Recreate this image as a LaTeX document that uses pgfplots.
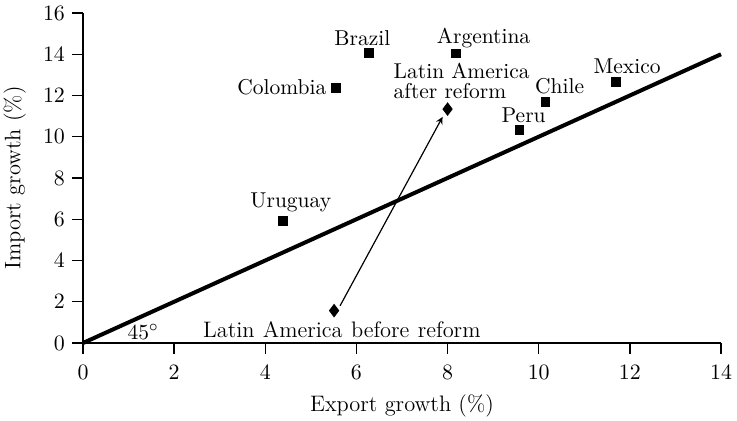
\documentclass[border=0pt]{standalone}
\usepackage{pgfplots}
\pgfplotsset{compat=1.18}
\begin{document}
\begin{tikzpicture}[font=\fontsize{10.75}{12.9}\selectfont]
\begin{axis}[
  at={(0,0)}, anchor=south west,
  scale only axis, width=319pt, height=165pt,
  xmin=0, xmax=14, ymin=0, ymax=16,
  axis lines*=left,
  axis line style={line width=1pt},
  xtick={0,2,...,14}, ytick={0,2,...,16},
  tick align=outside, major tick length=5.5pt,
  tick style={line width=0.7pt, black},
  tick label style={font=\fontsize{10.75}{12.9}\selectfont},
  xticklabel style={yshift=-2pt},
  xlabel={Export growth (\%)}, ylabel={Import growth (\%)},
  label style={font=\fontsize{11.2}{13.4}\selectfont},
  xlabel style={at={(axis description cs:0.5,-0.191)}, anchor=center},
  ylabel style={at={(axis description cs:-0.107,0.5)}, anchor=center, rotate=0},
  clip=false,
]
\addplot[line width=2pt, no marks] coordinates {(0,0) (14,14)};
\addplot[only marks, mark=square*, mark size=2.1pt, black] coordinates {
  (6.27,14.06) (8.18,14.03) (5.55,12.36) (11.69,12.65) (10.15,11.68) (9.58,10.34) (4.39,5.92)
};
\addplot[only marks, mark=diamond*, mark size=3.1pt, black] coordinates {
  (5.51,1.57) (8.0,11.34)
};
\draw[-stealth, line width=0.6pt] (axis cs:5.64,1.8) -- (axis cs:7.89,10.96);
\node at (axis cs:6.13,14.79) {Brazil};
\node at (axis cs:8.79,14.81) {Argentina};
\node[anchor=east, inner sep=0pt] at (axis cs:5.35,12.38) {Colombia};
\node[align=left, inner sep=0pt, font=\fontsize{10.75}{10.3}\selectfont] at (axis cs:8.31,12.70) {Latin America\\after reform};
\node at (axis cs:11.94,13.40) {Mexico};
\node at (axis cs:10.46,12.43) {Chile};
\node at (axis cs:9.67,11.02) {Peru};
\node at (axis cs:4.56,6.80) {Uruguay};
\node[font=\fontsize{11.2}{13.4}\selectfont] at (axis cs:5.68,0.63) {Latin\hspace{0.37em}America\hspace{0.37em}before\hspace{0.37em}reform};
\node at (axis cs:1.32,0.53) {45$^\circ$};
\end{axis}
\pgfresetboundingbox
\path (-41.5pt,-39pt) rectangle (327pt,171.5pt);
\end{tikzpicture}
\end{document}
